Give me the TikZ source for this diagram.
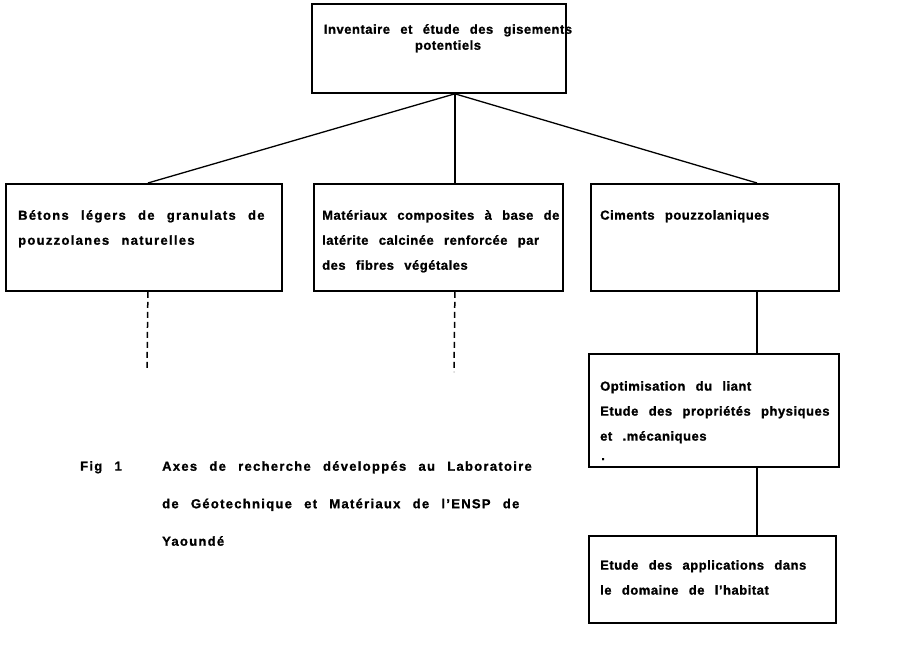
\documentclass[tikz,border=0pt]{standalone}
\usepackage{fontspec}
\setmainfont{Liberation Sans Bold}[LetterSpace=4,WordSpace=2.5,FakeBold=1.2]
\newfontfamily\widefont{Liberation Sans Bold}[LetterSpace=10,WordSpace=2.5,FakeBold=1.2]
\begin{document}
\begin{tikzpicture}[x=1pt,y=-1pt,
  box/.style={draw,line width=1.8pt,rectangle,inner sep=0pt,anchor=north west},
  txt/.style={anchor=north west,align=left,inner sep=0pt,font=\fontsize{13}{25}\selectfont},
  wtxt/.style={anchor=north west,align=left,inner sep=0pt,font=\widefont\fontsize{13}{25}\selectfont},
  ctxt/.style={anchor=north,align=center,inner sep=0pt,font=\fontsize{13}{16}\selectfont},
  captxt/.style={anchor=north west,align=left,inner sep=0pt,font=\widefont\fontsize{13}{37.5}\selectfont},
  conn/.style={line width=1.3pt},
  dconn/.style={line width=1.5pt,dash pattern=on 6pt off 4pt}]
\useasboundingbox (0,0) rectangle (904,651);
% boxes
\node[box,minimum width=254pt,minimum height=89pt] (top) at (311,3) {};
\node[box,minimum width=276pt,minimum height=107pt] (b1) at (5,183) {};
\node[box,minimum width=249pt,minimum height=107pt] (b2) at (313,183) {};
\node[box,minimum width=248pt,minimum height=107pt] (b3) at (590,183) {};
\node[box,minimum width=250pt,minimum height=113pt] (b4) at (588,353) {};
\node[box,minimum width=247pt,minimum height=87pt] (b5) at (588,535) {};
% texts
\node[ctxt] (ttop) at (448,24) {Inventaire et étude des gisements\\potentiels};
\node[wtxt] (t1) at (18,210) {Bétons légers de granulats de\\pouzzolanes naturelles};
\node[txt] (t2) at (322,210) {Matériaux composites à base de\\latérite calcinée renforcée par\\des fibres végétales};
\node[txt] (t3) at (600,210) {Ciments pouzzolaniques};
\node[txt] (t4) at (600,381) {Optimisation du liant\\Etude des propriétés physiques\\et .mécaniques};
\node[txt] (t4dot) at (601,458) {.};
\node[txt] (t5) at (600,560) {Etude des applications dans\\le domaine de l’habitat};
\node[captxt] (fig) at (80,461) {Fig 1};
\node[captxt] (capt) at (162,461) {Axes de recherche développés au Laboratoire\\de Géotechnique et Matériaux de l’ENSP de\\Yaoundé};
% connection points
\coordinate (hub) at ([xshift=16pt]top.south);
\coordinate (spine) at (757,0);
\coordinate (a1) at ([xshift=4pt]b1.north);
\coordinate (d1) at ([xshift=4pt]b1.south);
\coordinate (e1) at (147,370);
\coordinate (d2) at (b2.south -| hub);
\coordinate (e2) at (454,372);
% connectors
\draw[conn] (hub) -- (a1);
\draw[conn] (hub) -- (b2.north -| hub);
\draw[conn] (hub) -- (b3.north -| spine);
\draw[dconn] (d1) -- (e1);
\draw[dconn] (d2) -- (e2);
\draw[conn] (b3.south -| spine) -- (b4.north -| spine);
\draw[conn] (b4.south -| spine) -- (b5.north -| spine);
\end{tikzpicture}
\end{document}
